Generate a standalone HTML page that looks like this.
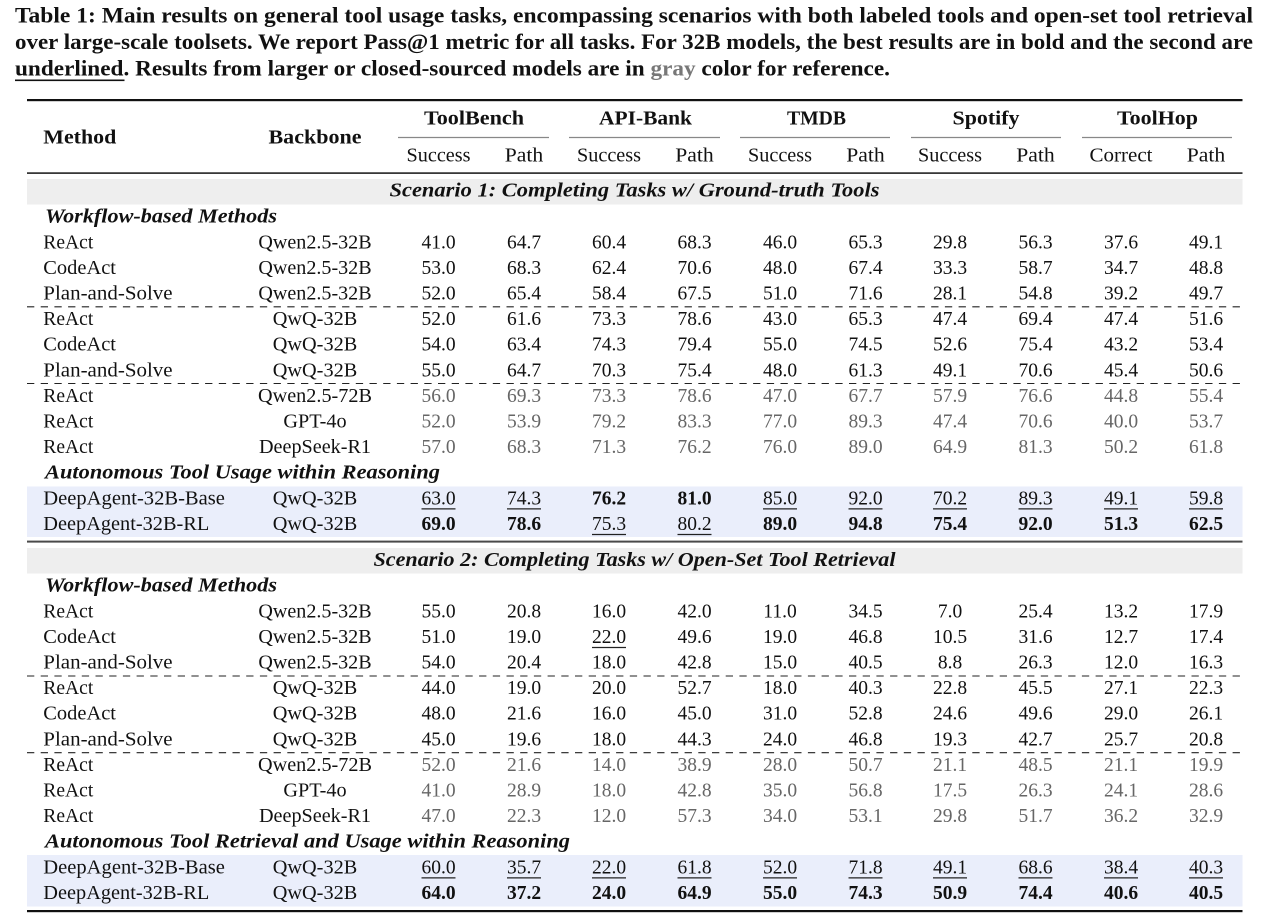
<!DOCTYPE html>
<html>
<head>
<meta charset="utf-8">
<style>
html,body{margin:0;padding:0;background:#fff;}
svg{display:block;}
text{font-family:"Liberation Serif","DejaVu Serif",serif;font-size:19.5px;fill:#111;}
.cap{font-size:22px;font-weight:bold;}
.m{text-anchor:middle;}
.b{font-weight:bold;}
.bi{font-weight:bold;font-style:italic;}
.g text{fill:#666;}
.nums text{text-anchor:middle;}
</style>
</head>
<body>
<svg width="1267" height="923" viewBox="0 0 1267 923" xmlns="http://www.w3.org/2000/svg">
<!-- Caption -->
<text class="cap" x="15" y="22.5" textLength="1238" lengthAdjust="spacingAndGlyphs">Table 1: Main results on general tool usage tasks, encompassing scenarios with both labeled tools and open-set tool retrieval</text>
<text class="cap" x="15" y="49" textLength="1238" lengthAdjust="spacingAndGlyphs">over large-scale toolsets. We report Pass@1 metric for all tasks. For 32B models, the best results are in bold and the second are</text>
<text class="cap" x="15" y="75.5" textLength="875" lengthAdjust="spacingAndGlyphs">underlined. Results from larger or closed-sourced models are in <tspan style="fill:#777">gray</tspan> color for reference.</text>
<rect x="15" y="79.5" width="109.5" height="1.6" fill="#111"/>

<!-- Bands -->
<rect x="27" y="179" width="1215.5" height="25.5" fill="#eeeeee"/>
<rect x="27" y="548" width="1215.5" height="25.5" fill="#eeeeee"/>
<rect x="27" y="486.5" width="1215.5" height="50.5" fill="#eaeefb"/>
<rect x="27" y="855" width="1215.5" height="51.5" fill="#eaeefb"/>

<!-- Rules -->
<rect x="27" y="99" width="1215.5" height="2.2" fill="#111"/>
<rect x="27" y="172.3" width="1215.5" height="1.6" fill="#222"/>
<rect x="27" y="540.6" width="1215.5" height="2" fill="#4a4a4a"/>
<rect x="27" y="910" width="1215.5" height="2.2" fill="#111"/>
<g stroke="#888" stroke-width="1.3">
<line x1="398" y1="137.5" x2="549" y2="137.5"/>
<line x1="569" y1="137.5" x2="720" y2="137.5"/>
<line x1="740" y1="137.5" x2="890" y2="137.5"/>
<line x1="911" y1="137.5" x2="1061" y2="137.5"/>
<line x1="1082" y1="137.5" x2="1232" y2="137.5"/>
</g>
<g stroke="#222" stroke-width="1.1" stroke-dasharray="7.3 6.4">
<line x1="27" y1="306.8" x2="1242.5" y2="306.8"/>
<line x1="27" y1="383.5" x2="1242.5" y2="383.5"/>
<line x1="27" y1="676" x2="1242.5" y2="676"/>
<line x1="27" y1="752.7" x2="1242.5" y2="752.7"/>
</g>

<!-- Header -->
<text class="b" x="43.3" y="143.5" textLength="73" lengthAdjust="spacingAndGlyphs">Method</text>
<text class="b m" x="315" y="143.5" textLength="93" lengthAdjust="spacingAndGlyphs">Backbone</text>
<text class="b m" x="474" y="124.5" textLength="100" lengthAdjust="spacingAndGlyphs">ToolBench</text>
<text class="b m" x="645.5" y="124.5" textLength="93" lengthAdjust="spacingAndGlyphs">API-Bank</text>
<text class="b m" x="816.5" y="124.5" textLength="59" lengthAdjust="spacingAndGlyphs">TMDB</text>
<text class="b m" x="986" y="124.5" textLength="67" lengthAdjust="spacingAndGlyphs">Spotify</text>
<text class="b m" x="1157.5" y="124.5" textLength="81" lengthAdjust="spacingAndGlyphs">ToolHop</text>
<g>
<text class="m" x="438.5" y="161.5" textLength="64" lengthAdjust="spacingAndGlyphs">Success</text>
<text class="m" x="524" y="161.5" textLength="38.5" lengthAdjust="spacingAndGlyphs">Path</text>
<text class="m" x="609" y="161.5" textLength="64" lengthAdjust="spacingAndGlyphs">Success</text>
<text class="m" x="694.5" y="161.5" textLength="38.5" lengthAdjust="spacingAndGlyphs">Path</text>
<text class="m" x="780" y="161.5" textLength="64" lengthAdjust="spacingAndGlyphs">Success</text>
<text class="m" x="865.5" y="161.5" textLength="38.5" lengthAdjust="spacingAndGlyphs">Path</text>
<text class="m" x="950" y="161.5" textLength="64" lengthAdjust="spacingAndGlyphs">Success</text>
<text class="m" x="1035.5" y="161.5" textLength="38.5" lengthAdjust="spacingAndGlyphs">Path</text>
<text class="m" x="1121" y="161.5" textLength="63" lengthAdjust="spacingAndGlyphs">Correct</text>
<text class="m" x="1206" y="161.5" textLength="38.5" lengthAdjust="spacingAndGlyphs">Path</text>
</g>

<!-- Scenario 1 -->
<text class="bi m" x="634.5" y="196.5" textLength="490" lengthAdjust="spacingAndGlyphs">Scenario 1: Completing Tasks w/ Ground-truth Tools</text>
<text class="bi" x="45" y="222.7" textLength="232" lengthAdjust="spacingAndGlyphs">Workflow-based Methods</text>

<text x="43.3" y="248.3" textLength="50" lengthAdjust="spacingAndGlyphs">ReAct</text>
<text class="m" x="315" y="248.3" textLength="113.3" lengthAdjust="spacingAndGlyphs">Qwen2.5-32B</text>
<g class="nums">
<text x="438.5" y="248.3">41.0</text><text x="524" y="248.3">64.7</text><text x="609" y="248.3">60.4</text><text x="694.5" y="248.3">68.3</text><text x="780" y="248.3">46.0</text><text x="865.5" y="248.3">65.3</text><text x="950" y="248.3">29.8</text><text x="1035.5" y="248.3">56.3</text><text x="1121" y="248.3">37.6</text><text x="1206" y="248.3">49.1</text>
</g>
<text x="43.3" y="273.9" textLength="72.7" lengthAdjust="spacingAndGlyphs">CodeAct</text>
<text class="m" x="315" y="273.9" textLength="113.3" lengthAdjust="spacingAndGlyphs">Qwen2.5-32B</text>
<g class="nums">
<text x="438.5" y="273.9">53.0</text><text x="524" y="273.9">68.3</text><text x="609" y="273.9">62.4</text><text x="694.5" y="273.9">70.6</text><text x="780" y="273.9">48.0</text><text x="865.5" y="273.9">67.4</text><text x="950" y="273.9">33.3</text><text x="1035.5" y="273.9">58.7</text><text x="1121" y="273.9">34.7</text><text x="1206" y="273.9">48.8</text>
</g>
<text x="43.3" y="299.5" textLength="129.3" lengthAdjust="spacingAndGlyphs">Plan-and-Solve</text>
<text class="m" x="315" y="299.5" textLength="113.3" lengthAdjust="spacingAndGlyphs">Qwen2.5-32B</text>
<g class="nums">
<text x="438.5" y="299.5">52.0</text><text x="524" y="299.5">65.4</text><text x="609" y="299.5">58.4</text><text x="694.5" y="299.5">67.5</text><text x="780" y="299.5">51.0</text><text x="865.5" y="299.5">71.6</text><text x="950" y="299.5">28.1</text><text x="1035.5" y="299.5">54.8</text><text x="1121" y="299.5">39.2</text><text x="1206" y="299.5">49.7</text>
</g>
<text x="43.3" y="325.1" textLength="50" lengthAdjust="spacingAndGlyphs">ReAct</text>
<text class="m" x="315" y="325.1" textLength="84.5" lengthAdjust="spacingAndGlyphs">QwQ-32B</text>
<g class="nums">
<text x="438.5" y="325.1">52.0</text><text x="524" y="325.1">61.6</text><text x="609" y="325.1">73.3</text><text x="694.5" y="325.1">78.6</text><text x="780" y="325.1">43.0</text><text x="865.5" y="325.1">65.3</text><text x="950" y="325.1">47.4</text><text x="1035.5" y="325.1">69.4</text><text x="1121" y="325.1">47.4</text><text x="1206" y="325.1">51.6</text>
</g>
<text x="43.3" y="350.7" textLength="72.7" lengthAdjust="spacingAndGlyphs">CodeAct</text>
<text class="m" x="315" y="350.7" textLength="84.5" lengthAdjust="spacingAndGlyphs">QwQ-32B</text>
<g class="nums">
<text x="438.5" y="350.7">54.0</text><text x="524" y="350.7">63.4</text><text x="609" y="350.7">74.3</text><text x="694.5" y="350.7">79.4</text><text x="780" y="350.7">55.0</text><text x="865.5" y="350.7">74.5</text><text x="950" y="350.7">52.6</text><text x="1035.5" y="350.7">75.4</text><text x="1121" y="350.7">43.2</text><text x="1206" y="350.7">53.4</text>
</g>
<text x="43.3" y="376.3" textLength="129.3" lengthAdjust="spacingAndGlyphs">Plan-and-Solve</text>
<text class="m" x="315" y="376.3" textLength="84.5" lengthAdjust="spacingAndGlyphs">QwQ-32B</text>
<g class="nums">
<text x="438.5" y="376.3">55.0</text><text x="524" y="376.3">64.7</text><text x="609" y="376.3">70.3</text><text x="694.5" y="376.3">75.4</text><text x="780" y="376.3">48.0</text><text x="865.5" y="376.3">61.3</text><text x="950" y="376.3">49.1</text><text x="1035.5" y="376.3">70.6</text><text x="1121" y="376.3">45.4</text><text x="1206" y="376.3">50.6</text>
</g>
<text x="43.3" y="401.9" textLength="50" lengthAdjust="spacingAndGlyphs">ReAct</text>
<text class="m" x="315" y="401.9" textLength="114" lengthAdjust="spacingAndGlyphs">Qwen2.5-72B</text>
<g class="nums g">
<text x="438.5" y="401.9">56.0</text><text x="524" y="401.9">69.3</text><text x="609" y="401.9">73.3</text><text x="694.5" y="401.9">78.6</text><text x="780" y="401.9">47.0</text><text x="865.5" y="401.9">67.7</text><text x="950" y="401.9">57.9</text><text x="1035.5" y="401.9">76.6</text><text x="1121" y="401.9">44.8</text><text x="1206" y="401.9">55.4</text>
</g>
<text x="43.3" y="427.5" textLength="50" lengthAdjust="spacingAndGlyphs">ReAct</text>
<text class="m" x="315" y="427.5" textLength="63.3" lengthAdjust="spacingAndGlyphs">GPT-4o</text>
<g class="nums g">
<text x="438.5" y="427.5">52.0</text><text x="524" y="427.5">53.9</text><text x="609" y="427.5">79.2</text><text x="694.5" y="427.5">83.3</text><text x="780" y="427.5">77.0</text><text x="865.5" y="427.5">89.3</text><text x="950" y="427.5">47.4</text><text x="1035.5" y="427.5">70.6</text><text x="1121" y="427.5">40.0</text><text x="1206" y="427.5">53.7</text>
</g>
<text x="43.3" y="453.1" textLength="50" lengthAdjust="spacingAndGlyphs">ReAct</text>
<text class="m" x="315" y="453.1" textLength="112" lengthAdjust="spacingAndGlyphs">DeepSeek-R1</text>
<g class="nums g">
<text x="438.5" y="453.1">57.0</text><text x="524" y="453.1">68.3</text><text x="609" y="453.1">71.3</text><text x="694.5" y="453.1">76.2</text><text x="780" y="453.1">76.0</text><text x="865.5" y="453.1">89.0</text><text x="950" y="453.1">64.9</text><text x="1035.5" y="453.1">81.3</text><text x="1121" y="453.1">50.2</text><text x="1206" y="453.1">61.8</text>
</g>
<text class="bi" x="45" y="478.7" textLength="395" lengthAdjust="spacingAndGlyphs">Autonomous Tool Usage within Reasoning</text>
<text x="43.3" y="504.3" textLength="181.6" lengthAdjust="spacingAndGlyphs">DeepAgent-32B-Base</text>
<text class="m" x="315" y="504.3" textLength="84.5" lengthAdjust="spacingAndGlyphs">QwQ-32B</text>
<g class="nums">
<text x="438.5" y="504.3">63.0</text><text x="524" y="504.3">74.3</text><text class="b" x="609" y="504.3">76.2</text><text class="b" x="694.5" y="504.3">81.0</text><text x="780" y="504.3">85.0</text><text x="865.5" y="504.3">92.0</text><text x="950" y="504.3">70.2</text><text x="1035.5" y="504.3">89.3</text><text x="1121" y="504.3">49.1</text><text x="1206" y="504.3">59.8</text>
</g>
<text x="43.3" y="529.9" textLength="166" lengthAdjust="spacingAndGlyphs">DeepAgent-32B-RL</text>
<text class="m" x="315" y="529.9" textLength="84.5" lengthAdjust="spacingAndGlyphs">QwQ-32B</text>
<g class="nums">
<text class="b" x="438.5" y="529.9">69.0</text><text class="b" x="524" y="529.9">78.6</text><text x="609" y="529.9">75.3</text><text x="694.5" y="529.9">80.2</text><text class="b" x="780" y="529.9">89.0</text><text class="b" x="865.5" y="529.9">94.8</text><text class="b" x="950" y="529.9">75.4</text><text class="b" x="1035.5" y="529.9">92.0</text><text class="b" x="1121" y="529.9">51.3</text><text class="b" x="1206" y="529.9">62.5</text>
</g>

<!-- Scenario 2 -->
<text class="bi m" x="634.5" y="566" textLength="522" lengthAdjust="spacingAndGlyphs">Scenario 2: Completing Tasks w/ Open-Set Tool Retrieval</text>
<text class="bi" x="45" y="591.7" textLength="232" lengthAdjust="spacingAndGlyphs">Workflow-based Methods</text>

<text x="43.3" y="617.3" textLength="50" lengthAdjust="spacingAndGlyphs">ReAct</text>
<text class="m" x="315" y="617.3" textLength="113.3" lengthAdjust="spacingAndGlyphs">Qwen2.5-32B</text>
<g class="nums">
<text x="438.5" y="617.3">55.0</text><text x="524" y="617.3">20.8</text><text x="609" y="617.3">16.0</text><text x="694.5" y="617.3">42.0</text><text x="780" y="617.3">11.0</text><text x="865.5" y="617.3">34.5</text><text x="950" y="617.3">7.0</text><text x="1035.5" y="617.3">25.4</text><text x="1121" y="617.3">13.2</text><text x="1206" y="617.3">17.9</text>
</g>
<text x="43.3" y="642.9" textLength="72.7" lengthAdjust="spacingAndGlyphs">CodeAct</text>
<text class="m" x="315" y="642.9" textLength="113.3" lengthAdjust="spacingAndGlyphs">Qwen2.5-32B</text>
<g class="nums">
<text x="438.5" y="642.9">51.0</text><text x="524" y="642.9">19.0</text><text x="609" y="642.9">22.0</text><text x="694.5" y="642.9">49.6</text><text x="780" y="642.9">19.0</text><text x="865.5" y="642.9">46.8</text><text x="950" y="642.9">10.5</text><text x="1035.5" y="642.9">31.6</text><text x="1121" y="642.9">12.7</text><text x="1206" y="642.9">17.4</text>
</g>
<text x="43.3" y="668.5" textLength="129.3" lengthAdjust="spacingAndGlyphs">Plan-and-Solve</text>
<text class="m" x="315" y="668.5" textLength="113.3" lengthAdjust="spacingAndGlyphs">Qwen2.5-32B</text>
<g class="nums">
<text x="438.5" y="668.5">54.0</text><text x="524" y="668.5">20.4</text><text x="609" y="668.5">18.0</text><text x="694.5" y="668.5">42.8</text><text x="780" y="668.5">15.0</text><text x="865.5" y="668.5">40.5</text><text x="950" y="668.5">8.8</text><text x="1035.5" y="668.5">26.3</text><text x="1121" y="668.5">12.0</text><text x="1206" y="668.5">16.3</text>
</g>
<text x="43.3" y="694.1" textLength="50" lengthAdjust="spacingAndGlyphs">ReAct</text>
<text class="m" x="315" y="694.1" textLength="84.5" lengthAdjust="spacingAndGlyphs">QwQ-32B</text>
<g class="nums">
<text x="438.5" y="694.1">44.0</text><text x="524" y="694.1">19.0</text><text x="609" y="694.1">20.0</text><text x="694.5" y="694.1">52.7</text><text x="780" y="694.1">18.0</text><text x="865.5" y="694.1">40.3</text><text x="950" y="694.1">22.8</text><text x="1035.5" y="694.1">45.5</text><text x="1121" y="694.1">27.1</text><text x="1206" y="694.1">22.3</text>
</g>
<text x="43.3" y="719.7" textLength="72.7" lengthAdjust="spacingAndGlyphs">CodeAct</text>
<text class="m" x="315" y="719.7" textLength="84.5" lengthAdjust="spacingAndGlyphs">QwQ-32B</text>
<g class="nums">
<text x="438.5" y="719.7">48.0</text><text x="524" y="719.7">21.6</text><text x="609" y="719.7">16.0</text><text x="694.5" y="719.7">45.0</text><text x="780" y="719.7">31.0</text><text x="865.5" y="719.7">52.8</text><text x="950" y="719.7">24.6</text><text x="1035.5" y="719.7">49.6</text><text x="1121" y="719.7">29.0</text><text x="1206" y="719.7">26.1</text>
</g>
<text x="43.3" y="745.3" textLength="129.3" lengthAdjust="spacingAndGlyphs">Plan-and-Solve</text>
<text class="m" x="315" y="745.3" textLength="84.5" lengthAdjust="spacingAndGlyphs">QwQ-32B</text>
<g class="nums">
<text x="438.5" y="745.3">45.0</text><text x="524" y="745.3">19.6</text><text x="609" y="745.3">18.0</text><text x="694.5" y="745.3">44.3</text><text x="780" y="745.3">24.0</text><text x="865.5" y="745.3">46.8</text><text x="950" y="745.3">19.3</text><text x="1035.5" y="745.3">42.7</text><text x="1121" y="745.3">25.7</text><text x="1206" y="745.3">20.8</text>
</g>
<text x="43.3" y="770.9" textLength="50" lengthAdjust="spacingAndGlyphs">ReAct</text>
<text class="m" x="315" y="770.9" textLength="114" lengthAdjust="spacingAndGlyphs">Qwen2.5-72B</text>
<g class="nums g">
<text x="438.5" y="770.9">52.0</text><text x="524" y="770.9">21.6</text><text x="609" y="770.9">14.0</text><text x="694.5" y="770.9">38.9</text><text x="780" y="770.9">28.0</text><text x="865.5" y="770.9">50.7</text><text x="950" y="770.9">21.1</text><text x="1035.5" y="770.9">48.5</text><text x="1121" y="770.9">21.1</text><text x="1206" y="770.9">19.9</text>
</g>
<text x="43.3" y="796.5" textLength="50" lengthAdjust="spacingAndGlyphs">ReAct</text>
<text class="m" x="315" y="796.5" textLength="63.3" lengthAdjust="spacingAndGlyphs">GPT-4o</text>
<g class="nums g">
<text x="438.5" y="796.5">41.0</text><text x="524" y="796.5">28.9</text><text x="609" y="796.5">18.0</text><text x="694.5" y="796.5">42.8</text><text x="780" y="796.5">35.0</text><text x="865.5" y="796.5">56.8</text><text x="950" y="796.5">17.5</text><text x="1035.5" y="796.5">26.3</text><text x="1121" y="796.5">24.1</text><text x="1206" y="796.5">28.6</text>
</g>
<text x="43.3" y="822.1" textLength="50" lengthAdjust="spacingAndGlyphs">ReAct</text>
<text class="m" x="315" y="822.1" textLength="112" lengthAdjust="spacingAndGlyphs">DeepSeek-R1</text>
<g class="nums g">
<text x="438.5" y="822.1">47.0</text><text x="524" y="822.1">22.3</text><text x="609" y="822.1">12.0</text><text x="694.5" y="822.1">57.3</text><text x="780" y="822.1">34.0</text><text x="865.5" y="822.1">53.1</text><text x="950" y="822.1">29.8</text><text x="1035.5" y="822.1">51.7</text><text x="1121" y="822.1">36.2</text><text x="1206" y="822.1">32.9</text>
</g>
<text class="bi" x="45" y="847.7" textLength="525" lengthAdjust="spacingAndGlyphs">Autonomous Tool Retrieval and Usage within Reasoning</text>
<text x="43.3" y="873.3" textLength="181.6" lengthAdjust="spacingAndGlyphs">DeepAgent-32B-Base</text>
<text class="m" x="315" y="873.3" textLength="84.5" lengthAdjust="spacingAndGlyphs">QwQ-32B</text>
<g class="nums">
<text x="438.5" y="873.3">60.0</text><text x="524" y="873.3">35.7</text><text x="609" y="873.3">22.0</text><text x="694.5" y="873.3">61.8</text><text x="780" y="873.3">52.0</text><text x="865.5" y="873.3">71.8</text><text x="950" y="873.3">49.1</text><text x="1035.5" y="873.3">68.6</text><text x="1121" y="873.3">38.4</text><text x="1206" y="873.3">40.3</text>
</g>
<text x="43.3" y="898.9" textLength="166" lengthAdjust="spacingAndGlyphs">DeepAgent-32B-RL</text>
<text class="m" x="315" y="898.9" textLength="84.5" lengthAdjust="spacingAndGlyphs">QwQ-32B</text>
<g class="nums">
<text class="b" x="438.5" y="898.9">64.0</text><text class="b" x="524" y="898.9">37.2</text><text class="b" x="609" y="898.9">24.0</text><text class="b" x="694.5" y="898.9">64.9</text><text class="b" x="780" y="898.9">55.0</text><text class="b" x="865.5" y="898.9">74.3</text><text class="b" x="950" y="898.9">50.9</text><text class="b" x="1035.5" y="898.9">74.4</text><text class="b" x="1121" y="898.9">40.6</text><text class="b" x="1206" y="898.9">40.5</text>
</g>

<!-- Underlines -->
<path fill="none" stroke="#222" stroke-width="1.3" d="
M421.5 508.9h34 M507 508.9h34 M763 508.9h34 M848.5 508.9h34 M933 508.9h34 M1018.5 508.9h34 M1104 508.9h34 M1189 508.9h34
M592 534.5h34 M677.5 534.5h34
M592 647.5h34
M421.5 877.9h34 M507 877.9h34 M592 877.9h34 M677.5 877.9h34 M763 877.9h34 M848.5 877.9h34 M933 877.9h34 M1018.5 877.9h34 M1104 877.9h34 M1189 877.9h34"/>
</svg>
</body>
</html>
